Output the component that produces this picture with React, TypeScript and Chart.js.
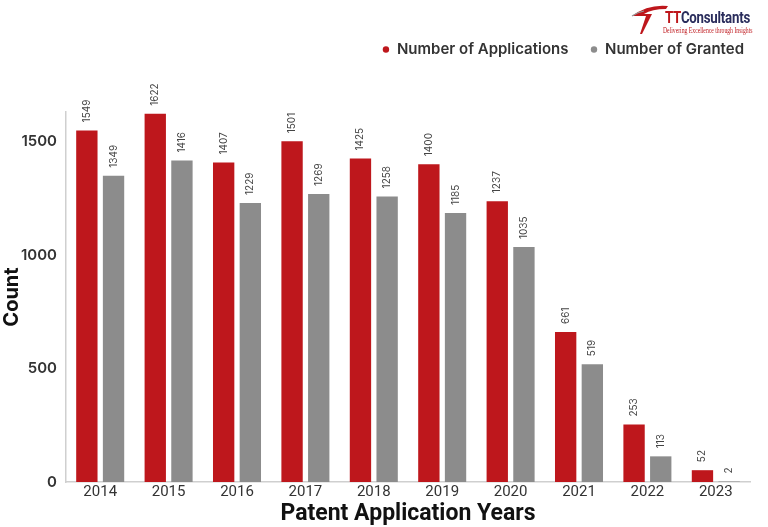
import React, { useEffect, useRef } from "react";
import { Chart, registerables } from "chart.js";

Chart.register(...registerables);

const years = ["2014", "2015", "2016", "2017", "2018", "2019", "2020", "2021", "2022", "2023"];
const applications = [1549, 1622, 1407, 1501, 1425, 1400, 1237, 661, 253, 52];
const granted = [1349, 1416, 1229, 1269, 1258, 1185, 1035, 519, 113, 2];
const yTicks = [0, 500, 1000, 1500];

const RED = "#BE171C";
const GREY = "#8C8C8C";

const valueLabels = {
  id: "valueLabels",
  afterDatasetsDraw(chart: any) {
    const ctx = chart.ctx;
    ctx.save();
    ctx.font = "400 10px Inter, 'Open Sans', sans-serif";
    ctx.fillStyle = "#444";
    ctx.textAlign = "left";
    ctx.textBaseline = "middle";
    chart.data.datasets.forEach((ds: any, di: number) => {
      const meta = chart.getDatasetMeta(di);
      meta.data.forEach((el: any, i: number) => {
        ctx.save();
        ctx.translate(el.x, el.y - 8);
        ctx.rotate(-Math.PI / 2);
        ctx.fillText(String(ds.data[i]), 0, 0);
        ctx.restore();
      });
    });
    ctx.restore();
  },
};

const legendSpacer = {
  id: "legendSpacer",
  beforeInit(chart: any) {
    const orig = chart.legend.fit;
    chart.legend.fit = function () {
      orig.bind(chart.legend)();
      this.height += 45;
    };
  },
  afterLayout(chart: any) {
    chart.legend.left += 16;
    chart.legend.right += 16;
  },
};

function Logo() {
  return (
    <div style={{ position: "absolute", left: 630, top: 2, width: 138, height: 36, pointerEvents: "none" }}>
      <svg width="40" height="34" style={{ position: "absolute", left: 0, top: 0 }}>
        <path d="M2 14 Q18 2 38 4 L36 7 Q22 7 14 12 L22 12 L12 32 L10 32 L16 14 Z" fill={RED} />
        <path d="M2 14 Q8 10 14 9" stroke="#999" strokeWidth="1.2" fill="none" />
      </svg>
      <div style={{ position: "absolute", left: 35, top: 5, font: "700 17px Roboto, sans-serif", color: "#2A2D5C", letterSpacing: "-0.3px", whiteSpace: "nowrap", transform: "scaleX(0.78)", transformOrigin: "left top" }}>
        <span style={{ color: RED }}>TT</span>Consultants
      </div>
      <div style={{ position: "absolute", left: 33, top: 24, font: "400 7.5px 'Liberation Serif', 'DejaVu Serif', serif", color: RED, whiteSpace: "nowrap", transform: "scaleX(0.76)", transformOrigin: "left top" }}>
        Delivering Excellence through Insights
      </div>
    </div>
  );
}

export default function App() {
  const ref = useRef<HTMLCanvasElement>(null);

  useEffect(() => {
    document.body.style.margin = "0";
    const chart = new Chart(ref.current as HTMLCanvasElement, {
      type: "bar",
      data: {
        labels: years,
        datasets: [
          { label: "Number of Applications", data: applications, backgroundColor: RED, borderWidth: 0, categoryPercentage: 0.78, barPercentage: 0.8 },
          { label: "Number of Granted", data: granted, backgroundColor: GREY, borderWidth: 0, categoryPercentage: 0.78, barPercentage: 0.8 },
        ],
      },
      options: {
        animation: false,
        responsive: false,
        maintainAspectRatio: false,
        layout: { padding: { top: 20, right: 18, bottom: 1, left: 0 } },
        plugins: {
          legend: {
            position: "top",
            align: "end",
            labels: {
              usePointStyle: true,
              pointStyle: "circle",
              boxWidth: 7,
              boxHeight: 4.5,
              padding: 22,
              color: "#333",
              font: { family: "Inter, 'Open Sans', sans-serif", size: 15, weight: 600 },
            },
          },
          tooltip: { enabled: false },
        },
        scales: {
          x: {
            grid: { display: false, drawTicks: false },
            border: { display: true, color: "#cfcfcf", width: 1.5 },
            afterFit(scale: any) {
              scale.height = 44;
            },
            ticks: {
              color: "#333",
              padding: 3,
              font: { family: "Roboto, sans-serif", size: 15, weight: 400, lineHeight: 1 },
            },
            title: {
              display: true,
              text: "Patent Application Years",
              color: "#111",
              padding: { top: 4, bottom: 0 },
              font: { family: "Roboto, sans-serif", size: 23, weight: 700, lineHeight: 1 },
            },
          },
          y: {
            min: 0,
            max: 1630,
            grid: { display: false, drawTicks: false },
            border: { display: true, color: "#cfcfcf", width: 1.5 },
            afterFit(scale: any) {
              scale.width = 66;
            },
            afterBuildTicks(scale: any) {
              scale.ticks = yTicks.map((v) => ({ value: v }));
            },
            ticks: {
              color: "#333",
              padding: 9,
              callback: (v: any) => String(v),
              font: { family: "Inter, 'Open Sans', sans-serif", size: 15, weight: 600 },
            },
            title: {
              display: true,
              text: "Count",
              color: "#111",
              padding: { top: 0, bottom: 0 },
              font: { family: "Inter, 'Open Sans', sans-serif", size: 20, weight: 700 },
            },
          },
        },
      },
      plugins: [valueLabels, legendSpacer],
    });
    return () => chart.destroy();
  }, []);

  return (
    <div style={{ position: "relative", width: 768, height: 527, background: "#fff" }}>
      <canvas ref={ref} width={768} height={527} style={{ display: "block" }} />
      <Logo />
    </div>
  );
}
